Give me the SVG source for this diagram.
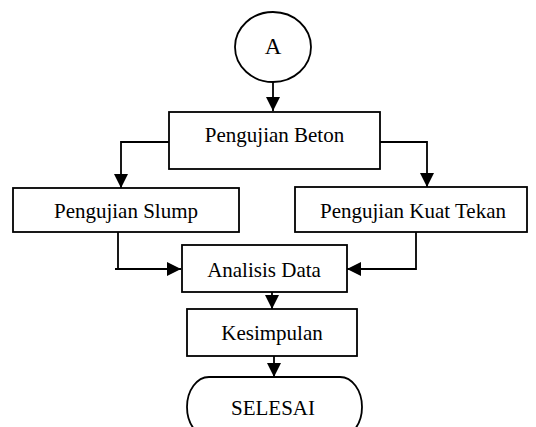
<svg xmlns="http://www.w3.org/2000/svg" width="536" height="427" viewBox="0 0 536 427">
  <style>
    .shape { fill: #ffffff; stroke: #000000; stroke-width: 1.8; }
    .conn { fill: none; stroke: #000000; stroke-width: 1.8; marker-end: url(#arrow); }
    text { font-family: "Liberation Serif", "Times New Roman", serif; font-size: 21px; fill: #000000; text-anchor: middle; }
    .big { font-size: 23px; }
  </style>
  <defs>
    <marker id="arrow" viewBox="0 0 10 10" refX="10" refY="5" markerWidth="15" markerHeight="14" markerUnits="userSpaceOnUse" orient="auto">
      <path d="M0,0 L10,5 L0,10 z" fill="#000000"/>
    </marker>
  </defs>
  <rect width="536" height="427" fill="#ffffff"/>

  <g id="connectors">
    <path class="conn" d="M273,82 V111"/>
    <path class="conn" d="M169,142 H121 V188"/>
    <path class="conn" d="M380,142 H427 V187"/>
    <path class="conn" d="M118,232 V269 M115,269 H181"/>
    <path class="conn" d="M416,232 V269 H347"/>
    <path class="conn" d="M272,292 V309"/>
    <path class="conn" d="M274,356 V377"/>
  </g>

  <g id="node-a">
    <ellipse class="shape" cx="273" cy="47" rx="38" ry="35"/>
    <text class="big" x="273" y="54">A</text>
  </g>
  <g id="node-pengujian-beton">
    <rect class="shape" x="169" y="112" width="211" height="57"/>
    <text x="274.5" y="142">Pengujian Beton</text>
  </g>
  <g id="node-pengujian-slump">
    <rect class="shape" x="13" y="188" width="226" height="44"/>
    <text x="126" y="218">Pengujian Slump</text>
  </g>
  <g id="node-pengujian-kuat-tekan">
    <rect class="shape" x="295" y="187" width="232" height="45"/>
    <text x="413" y="218">Pengujian Kuat Tekan</text>
  </g>
  <g id="node-analisis-data">
    <rect class="shape" x="182" y="245" width="165" height="47"/>
    <text x="264" y="277">Analisis Data</text>
  </g>
  <g id="node-kesimpulan">
    <rect class="shape" x="187" y="309" width="170" height="47"/>
    <text x="272" y="340">Kesimpulan</text>
  </g>
  <g id="node-selesai">
    <rect class="shape" x="187" y="377" width="175" height="60" rx="22" ry="30"/>
    <text x="273" y="415">SELESAI</text>
  </g>
</svg>
